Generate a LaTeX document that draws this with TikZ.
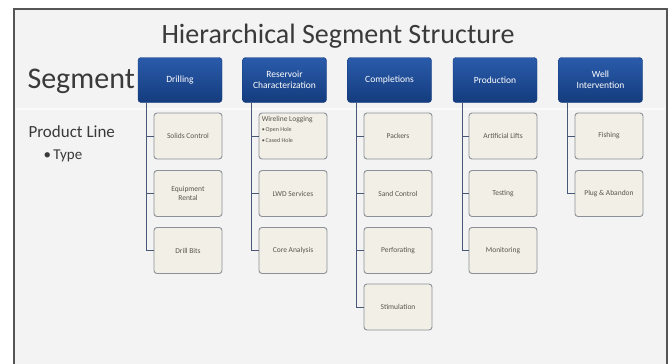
\documentclass[tikz,border=0pt]{standalone}
\usepackage{fontspec}
\setmainfont{Carlito}
\definecolor{frameln}{HTML}{555555}
\definecolor{slidebg}{HTML}{F3F3F3}
\definecolor{hdrtop}{HTML}{2A5BAA}
\definecolor{hdrbot}{HTML}{143C7E}
\definecolor{kidfill}{HTML}{F1EFE6}
\definecolor{kidline}{HTML}{8C9098}
\definecolor{conn}{HTML}{4A5878}
\definecolor{txt}{HTML}{3A3A3A}
\definecolor{kidtxt}{HTML}{5A564C}
\begin{document}
\begin{tikzpicture}[x=1pt,y=-1pt,
  hdrbox/.style={rounded corners=3pt, top color=hdrtop, bottom color=hdrbot, draw=hdrbot,
    minimum width=84pt, minimum height=45pt, inner sep=1pt, text=white,
    font=\fontsize{9.5}{11}\selectfont, align=center},
  kidbox/.style={rounded corners=3pt, fill=kidfill, draw=kidline, line width=0.9pt,
    minimum width=68pt, minimum height=46pt, inner sep=1pt, text=kidtxt,
    font=\fontsize{7.5}{9}\selectfont, align=center},
  connline/.style={draw=conn, line width=0.8pt}]
\useasboundingbox (0,0) rectangle (672,364);
\fill[white] (0,0) rectangle (672,364);
% slide frame
\fill[slidebg] (14,9) rectangle (667,370);
\draw[frameln, line width=1.2pt] (14,370) -- (14,9) -- (667,9) -- (667,370);
\draw[white!60!slidebg, line width=1.5pt] (16,109) -- (665,109);
% title
\node[font=\fontsize{28}{32}\selectfont, text=txt] (title) at (338,36) {Hierarchical Segment Structure};
\node[font=\fontsize{30}{33}\selectfont, text=txt, anchor=west] (seg) at (24,81) {Segment};
\node[font=\fontsize{17}{19}\selectfont, text=txt, anchor=west] (pl) at (25,132) {Product Line};
\node[font=\fontsize{15}{17}\selectfont, text=txt, anchor=west] (ty) at (40,156) {\textbullet\,Type};
% headers
\node[hdrbox] (h1) at (180,80) {Drilling};
\node[hdrbox] (h2) at (284.5,80) {Reservoir\\Characterization};
\node[hdrbox] (h3) at (389.5,80) {Completions};
\node[hdrbox] (h4) at (495,80) {Production};
\node[hdrbox] (h5) at (600.5,80) {Well\\Intervention};
% children
\node[kidbox] (a1) at (188,136) {Solids Control};
\node[kidbox] (a2) at (188,193.5) {Equipment\\Rental};
\node[kidbox] (a3) at (188,250.5) {Drill Bits};
\node[kidbox] (b1) at (293,136) {};
\node[anchor=north west, inner sep=0pt, align=left, text=kidtxt, font=\fontsize{7.5}{9}\selectfont] (b1t) at ([xshift=3pt,yshift=-4pt]b1.north west) {Wireline Logging\\[1pt]{\fontsize{6}{7}\selectfont\textbullet\,Open Hole}\\[1.5pt]{\fontsize{6}{7}\selectfont\textbullet\,Cased Hole}};
\node[kidbox] (b2) at (293,193.5) {LWD Services};
\node[kidbox] (b3) at (293,250.5) {Core Analysis};
\node[kidbox] (c1) at (398,136) {Packers};
\node[kidbox] (c2) at (398,193.5) {Sand Control};
\node[kidbox] (c3) at (398,250.5) {Perforating};
\node[kidbox] (c4) at (398,307) {Stimulation};
\node[kidbox] (d1) at (503,136) {Artificial Lifts};
\node[kidbox] (d2) at (503,193.5) {Testing};
\node[kidbox] (d3) at (503,250.5) {Monitoring};
\node[kidbox] (e1) at (609,136) {Fishing};
\node[kidbox] (e2) at (609,193.5) {Plug \& Abandon};
% connectors
\coordinate (ta) at (146,102.5);
\coordinate (tb) at (251,102.5);
\coordinate (tc) at (356,102.5);
\coordinate (td) at (462,102.5);
\coordinate (te) at (567,102.5);
\foreach \k in {a1,a2,a3} \draw[connline] (ta) |- (\k.west);
\foreach \k in {b1,b2,b3} \draw[connline] (tb) |- (\k.west);
\foreach \k in {c1,c2,c3,c4} \draw[connline] (tc) |- (\k.west);
\foreach \k in {d1,d2,d3} \draw[connline] (td) |- (\k.west);
\foreach \k in {e1,e2} \draw[connline] (te) |- (\k.west);
\end{tikzpicture}
\end{document}
